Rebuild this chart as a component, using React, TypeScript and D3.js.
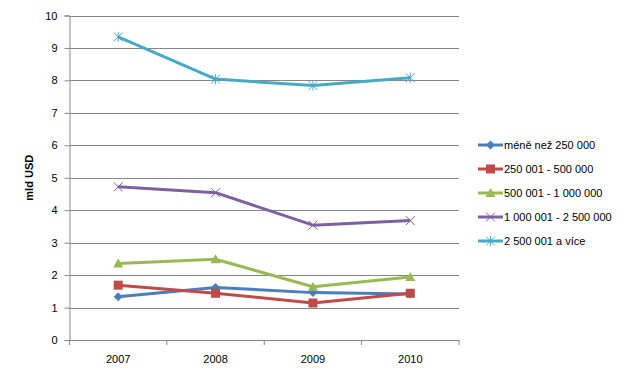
import { useEffect, useRef } from "react";
import * as d3 from "d3";

const years = ["2007", "2008", "2009", "2010"];
const seriesNames = [
  "méně než 250 000",
  "250 001 - 500 000",
  "500 001 - 1 000 000",
  "1 000 001 - 2 500 000",
  "2 500 001 a více",
];
const lessThan250k = [1.33, 1.62, 1.46, 1.42];
const from250kTo500k = [1.69, 1.44, 1.14, 1.44];
const from500kTo1m = [2.36, 2.49, 1.64, 1.94];
const from1mTo2_5m = [4.72, 4.54, 3.54, 3.68];
const over2_5m = [9.34, 8.04, 7.84, 8.08];
const yTicks = [0, 1, 2, 3, 4, 5, 6, 7, 8, 9, 10];

const colors = ["#4A7EBB", "#BE4B48", "#98B954", "#7D60A0", "#46AAC5"];
const markers = ["diamond", "square", "triangle", "x", "star"];

const W = 639;
const H = 384;
const FONT = "'Liberation Sans', Arial, sans-serif";

function drawMarker(g: any, type: string, x: number, y: number, color: string) {
  if (type === "diamond") {
    g.append("path")
      .attr("d", `M${x},${y - 4.5}L${x + 4.5},${y}L${x},${y + 4.5}L${x - 4.5},${y}Z`)
      .attr("fill", color);
  } else if (type === "square") {
    g.append("rect")
      .attr("x", x - 4.5).attr("y", y - 4.5)
      .attr("width", 9).attr("height", 9)
      .attr("fill", color);
  } else if (type === "triangle") {
    g.append("path")
      .attr("d", `M${x},${y - 5}L${x + 5},${y + 4}L${x - 5},${y + 4}Z`)
      .attr("fill", color);
  } else if (type === "x") {
    g.append("path")
      .attr("d", `M${x - 4.5},${y - 4.5}L${x + 4.5},${y + 4.5}M${x - 4.5},${y + 4.5}L${x + 4.5},${y - 4.5}`)
      .attr("stroke", color).attr("stroke-width", 1).attr("fill", "none");
  } else {
    g.append("path")
      .attr("d", `M${x - 4.5},${y - 4.5}L${x + 4.5},${y + 4.5}M${x - 4.5},${y + 4.5}L${x + 4.5},${y - 4.5}M${x},${y - 5}L${x},${y + 5}`)
      .attr("stroke", color).attr("stroke-width", 1).attr("fill", "none");
  }
}

export default function App() {
  const svgRef = useRef<SVGSVGElement | null>(null);

  useEffect(() => {
    const svg = d3.select(svgRef.current);
    svg.selectAll("*").remove();

    const x0 = 69.5, x1 = 459;
    const yTop = 15.5, yBot = 340;

    const xScale = d3.scaleBand().domain(years).range([x0, x1]);
    const yScale = d3.scaleLinear().domain([0, 10]).range([yBot, yTop]);

    svg.append("rect").attr("width", W).attr("height", H).attr("fill", "white");

    // gridlines + y ticks
    const yAxis = svg.append("g")
      .attr("transform", `translate(${x0},0)`)
      .call(d3.axisLeft(yScale).tickValues(yTicks).tickSize(5).tickPadding(7).tickFormat(d3.format("d")));
    yAxis.select(".domain").attr("stroke", "#868686");
    yAxis.selectAll(".tick line").attr("stroke", "#868686");
    yAxis.selectAll(".tick text")
      .attr("font-family", FONT).attr("font-size", 11).attr("fill", "#000");

    svg.append("g").selectAll("line")
      .data(yTicks.filter((t) => t > 0))
      .join("line")
      .attr("x1", x0).attr("x2", x1)
      .attr("y1", (d) => Math.round(yScale(d)) + 0.5)
      .attr("y2", (d) => Math.round(yScale(d)) + 0.5)
      .attr("stroke", "#868686");

    // x axis
    const xAxis = svg.append("g")
      .attr("transform", `translate(0,${yBot})`)
      .call(d3.axisBottom(xScale).tickSize(0).tickPadding(15));
    xAxis.select(".domain").attr("stroke", "#868686");
    xAxis.selectAll(".tick text")
      .attr("font-family", FONT).attr("font-size", 11).attr("fill", "#000");
    const bounds = [...years.map((y) => xScale(y) as number), x1];
    svg.append("g").selectAll("line")
      .data(bounds)
      .join("line")
      .attr("x1", (d) => d).attr("x2", (d) => d)
      .attr("y1", yBot).attr("y2", yBot + 5)
      .attr("stroke", "#868686");

    // y title
    svg.append("text")
      .attr("transform", `translate(33,${(yTop + yBot) / 2}) rotate(-90)`)
      .attr("text-anchor", "middle")
      .attr("font-family", FONT).attr("font-size", 11).attr("font-weight", "bold")
      .text("mld USD");

    const allSeries = [lessThan250k, from250kTo500k, from500kTo1m, from1mTo2_5m, over2_5m];
    const cx = (i: number) => (xScale(years[i]) as number) + xScale.bandwidth() / 2;
    const line = d3.line<number>()
      .x((_, i) => cx(i))
      .y((d) => yScale(d));

    allSeries.forEach((vals, s) => {
      const g = svg.append("g");
      g.append("path")
        .datum(vals)
        .attr("d", line)
        .attr("fill", "none")
        .attr("stroke", colors[s])
        .attr("stroke-width", 3)
        .attr("stroke-linejoin", "round");
      vals.forEach((v, i) => drawMarker(g, markers[s], cx(i), yScale(v), colors[s]));
    });

    // legend
    const lg = svg.append("g");
    seriesNames.forEach((name, s) => {
      const ly = 145 + s * 24;
      lg.append("line")
        .attr("x1", 478).attr("x2", 503)
        .attr("y1", ly).attr("y2", ly)
        .attr("stroke", colors[s]).attr("stroke-width", 3);
      drawMarker(lg, markers[s], 490.5, ly, colors[s]);
      lg.append("text")
        .attr("x", 504).attr("y", ly + 4)
        .attr("font-family", FONT).attr("font-size", 11)
        .attr("fill", "#000")
        .attr("textLength", undefined as any)
        .text(name);
    });
  }, []);

  return (
    <svg ref={svgRef} width={W} height={H} style={{ display: "block", margin: -8 }} />
  );
}
